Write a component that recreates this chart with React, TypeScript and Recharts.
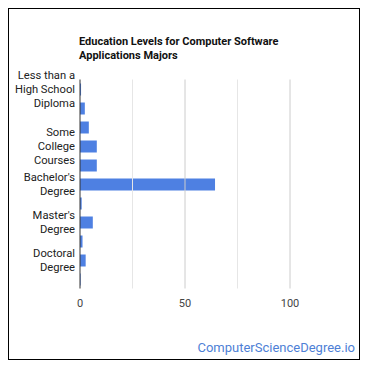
import React from "react";
import { BarChart, Bar, XAxis, YAxis, ReferenceLine } from "recharts";

const categories = [
  "Less than a High School Diploma",
  "High School Diploma",
  "Post-Secondary Certificate",
  "Some College Courses",
  "Associate's Degree",
  "Bachelor's Degree",
  "Post-Baccalaureate",
  "Master's Degree",
  "Post-Master's Certificate",
  "Doctoral Degree",
  "Post-Doctoral Training",
];
// only some labels are shown, the rest get dropped like in the original
const tickLabels = [
  "Less than a\nHigh School\nDiploma",
  "",
  "",
  "Some\nCollege\nCourses",
  "",
  "Bachelor's\nDegree",
  "",
  "Master's\nDegree",
  "",
  "Doctoral\nDegree",
  "",
];
const percents = [0.5, 2.3, 4.2, 8.0, 8.0, 64.3, 0.8, 6.1, 1.2, 2.7, 0.3];
const xTicks = [0, 50, 100];
const majorGrid = [50, 100];
const minorGrid = [25, 75];

const data = categories.map((name, i) => ({
  name,
  label: tickLabels[i],
  value: percents[i],
}));

const font = "Roboto, Arial, sans-serif";

const YTick = ({ x, y, index }: any) => {
  const lines = (tickLabels[index] || "").split("\n").filter(Boolean);
  if (!lines.length) return null;
  const top = y - ((lines.length - 1) * 14) / 2;
  return (
    <text
      x={x - 3}
      y={top}
      textAnchor="end"
      fontSize={11.2}
      fill="#222"
      fontFamily={font}
      dominantBaseline="central"
    >
      {lines.map((l, i) => (
        <tspan key={i} x={x - 3} y={top + i * 14}>
          {l}
        </tspan>
      ))}
    </text>
  );
};

const XTick = ({ x, y, payload }: any) => (
  <text
    x={x}
    y={y + 13}
    textAnchor="middle"
    fontSize={11}
    fill="#444"
    fontFamily={font}
    dominantBaseline="central"
  >
    {payload.value}
  </text>
);

export default function App() {
  return (
    <div
      style={{
        position: "relative",
        width: 350,
        height: 350,
        border: "1px solid #000",
        background: "#fff",
        fontFamily: font,
      }}
    >
      <div
        style={{
          position: "absolute",
          left: 70,
          top: 26,
          fontSize: 11,
          fontWeight: "bold",
          lineHeight: "14px",
          color: "#111",
        }}
      >
        Education Levels for Computer Software
        <br />
        Applications Majors
      </div>
      <BarChart
        width={350}
        height={350}
        layout="vertical"
        data={data}
        margin={{ top: 70.5, right: 16.5, left: 0, bottom: 40.5 }}
        barSize={12}
      >
        {minorGrid.map((v) => (
          <ReferenceLine key={v} x={v} stroke="#e6e6e6" />
        ))}
        {majorGrid.map((v) => (
          <ReferenceLine key={v} x={v} stroke="#cccccc" />
        ))}
        <XAxis
          type="number"
          domain={[0, 125]}
          ticks={xTicks}
          axisLine={false}
          tickLine={false}
          tickSize={0}
          height={30}
          tick={<XTick />}
          interval={0}
        />
        <YAxis
          type="category"
          dataKey="name"
          width={71}
          axisLine={false}
          tickLine={false}
          tickSize={0}
          interval={0}
          tick={<YTick />}
        />
        <Bar dataKey="value" fill="#4e80e2" isAnimationActive={false} />
        <ReferenceLine x={0} stroke="#333" />
      </BarChart>
      <div
        style={{
          position: "absolute",
          right: 4,
          top: 331,
          fontSize: 13,
          color: "#4e7fd6",
        }}
      >
        ComputerScienceDegree.io
      </div>
    </div>
  );
}
